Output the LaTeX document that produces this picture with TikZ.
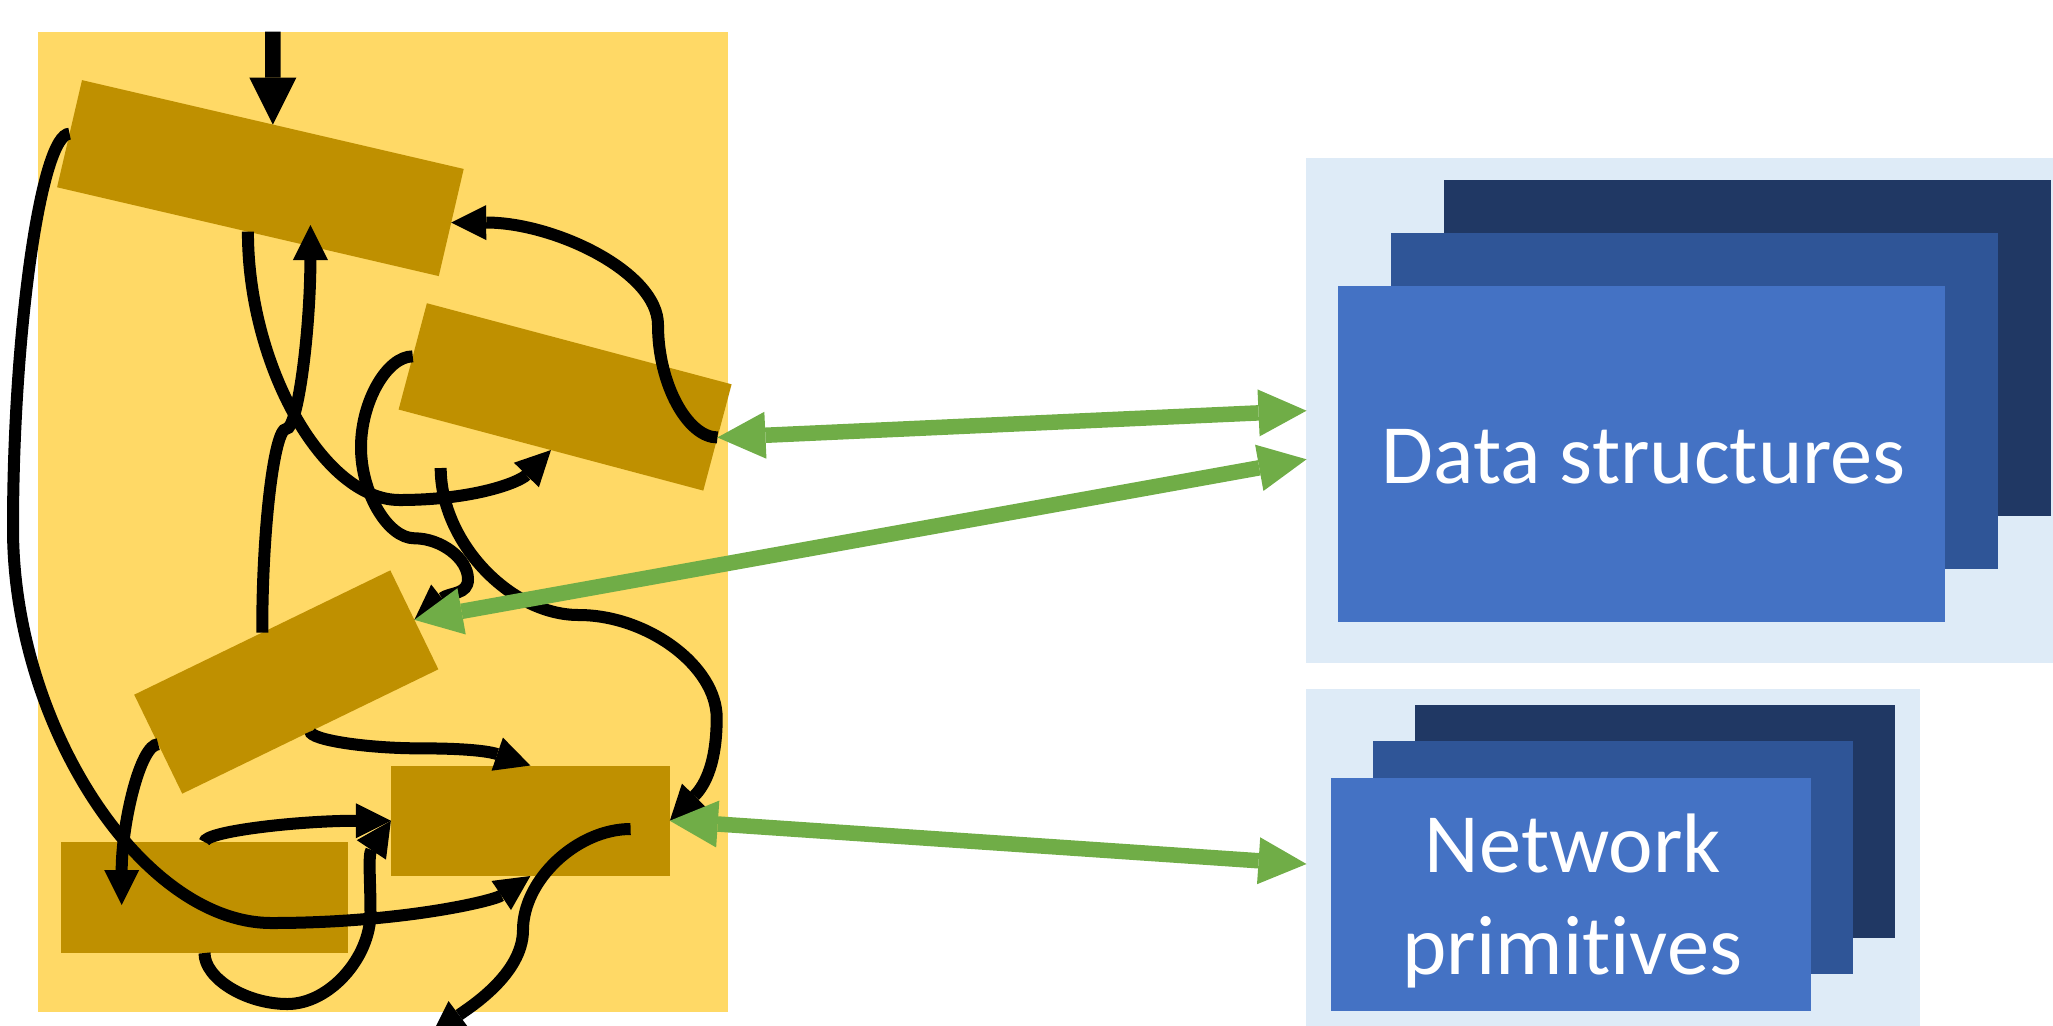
\documentclass[tikz,border=0pt]{standalone}
\usepackage{fontspec}
\setmainfont{Carlito}[Ligatures=NoCommon]
\usetikzlibrary{arrows.meta}
\definecolor{bgyellow}{HTML}{FFD966}
\definecolor{boxgold}{HTML}{BF9000}
\definecolor{panelblue}{HTML}{DEEBF7}
\definecolor{blueA}{HTML}{203864}
\definecolor{blueB}{HTML}{2F5597}
\definecolor{blueC}{HTML}{4472C4}
\definecolor{arrowgreen}{HTML}{70AD47}
\begin{document}
\begin{tikzpicture}[x=0.5pt,y=-0.5pt,
  gbox/.style={fill=boxgold, inner sep=0pt, outer sep=0pt, minimum height=55pt},
  conn/.style={line width=6pt, draw=black, -{Triangle[length=17.5pt,width=17.5pt,line width=0pt]}},
  linkarrow/.style={line width=7.75pt, draw=arrowgreen, {Triangle[length=24pt,width=23.5pt,line width=0pt]}-{Triangle[length=24pt,width=23.5pt,line width=0pt]}},
  boxtext/.style={text=white, font=\fontsize{42.2pt}{51.5pt}\selectfont, inner sep=0pt, anchor=base}
]
\useasboundingbox (0,0) rectangle (2053,1025);
\clip (0,0) rectangle (2053,1025);

% yellow background
\fill[bgyellow] (38,31.7) rectangle (728,1011.7);

% right panels
\fill[panelblue] (1306,158) rectangle (2053,663);
\fill[panelblue] (1306,689) rectangle (1920,1030);

% data structures stack
\fill[blueA] (1444,180.2) rectangle (2050.7,516.1);
\fill[blueB] (1391,233.2) rectangle (1997.7,569.1);
\fill[blueC] (1338,286.2) rectangle (1944.7,622.1);
\node[boxtext] (dstext) at (1643.6,483.1) {Data structures};

% network primitives stack
\fill[blueA] (1414.8,705) rectangle (1895.2,937.7);
\fill[blueB] (1372.9,741) rectangle (1853.2,974);
\fill[blueC] (1330.9,778) rectangle (1810.8,1010.7);
\node[boxtext] (nptexta) at (1573,872.3) {Network};
\node[boxtext] (nptextb) at (1572.4,974) {primitives};

% gold boxes
\node[gbox, minimum width=195.95pt, rotate=-13.1] (b1) at (260.4,178.1) {};
\node[gbox, minimum width=157.65pt, rotate=-14.9] (b2) at (565.1,396.9) {};
\node[gbox, minimum width=142.35pt, rotate=25.9] (b3) at (286.3,682) {};
\node[gbox, minimum width=139.5pt, minimum height=55.25pt] (b4) at (530.35,820.75) {};
\node[gbox, minimum width=143.5pt, minimum height=55.5pt] (b5) at (204.5,897.5) {};

% free ends
\coordinate (topin) at (272.85,31.7);
\coordinate (ctip) at (310.4,225);
\coordinate (ftip) at (121.7,905);
\coordinate (jstart) at (630.6,829);
\coordinate (jtip) at (431,1036);
\coordinate (kstart) at (440.7,468);
\coordinate (dsa) at (1306.5,410.7);
\coordinate (dsb) at (1306.5,459.3);
\coordinate (npa) at (1306.5,864);

% top input arrow
\draw[line width=7.65pt, -{Triangle[length=23.5pt,width=23.5pt,line width=0pt]}] (topin) -- (b1.north);

% black connectors
\draw[conn] (b2.west) .. controls (386.85,356.3) and (361,401.8) .. (361,447.3)
  .. controls (361,492.8) and (387.75,538.3) .. (414.5,538.3)
  .. controls (441.25,538.3) and (468,558.7) .. (468,579.15)
  .. controls (468,595) and (450,592) .. (b3.east);
\draw[conn] (b1.south) .. controls (247.85,365.8) and (323.6,500) .. (399.4,500)
  .. controls (475.2,500) and (519.5,482) .. (b2.south);
\draw[conn] (b3.north) .. controls (262,530.9) and (274.1,428.9) .. (286.2,428.9)
  .. controls (298.3,428.9) and (310.4,326.95) .. (ctip);
\draw[conn] (b2.east) .. controls (687.5,437.5) and (658,383.75) .. (658,325)
  .. controls (658,272) and (554.5,222.5) .. (b1.east);
\draw[conn] (b1.west) .. controls (41.25,133.6) and (13,330.95) .. (13,528.3)
  .. controls (13,725.65) and (142.25,923) .. (271.5,923)
  .. controls (400.75,923) and (493,901) .. (b4.south);
\draw[conn] (b3.west) .. controls (140,744.2) and (121.7,824.5) .. (ftip);
\draw[conn] (b3.south) .. controls (310.6,739.75) and (365.5,748.35) .. (420.5,748.35)
  .. controls (475.4,748.35) and (492.5,752.5) .. (b4.north);
\draw[conn] (b5.north) .. controls (204.5,831.4) and (297.65,820.75) .. (b4.west);
\draw[conn] (b5.south) .. controls (204.5,978.5) and (246,1004) .. (287.5,1004)
  .. controls (329,1004) and (370.5,958.2) .. (370.5,912.4)
  .. controls (370.5,880) and (368,855) .. (b4.west);
\draw[conn] (jstart) .. controls (577,829) and (523,880) .. (523,930)
  .. controls (523,975) and (467,1009) .. (jtip);
\draw[conn] (kstart) .. controls (440.7,541.5) and (509.7,615) .. (578.7,615)
  .. controls (647.7,615) and (716.7,666.4) .. (716.7,717.9)
  .. controls (716.7,769.3) and (701.4,788.8) .. (b4.east);

% green links
\draw[linkarrow] (b2.east) -- (dsa);
\draw[linkarrow] (b3.east) -- (dsb);
\draw[linkarrow] (b4.east) -- (npa);
\end{tikzpicture}
\end{document}
